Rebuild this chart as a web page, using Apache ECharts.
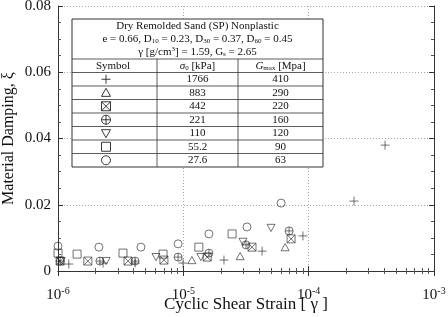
<!DOCTYPE html>
<html lang="en">
<head>
  <meta charset="UTF-8">
  <title>Material damping</title>
  <script src="https://cdn.jsdelivr.net/npm/echarts@6/dist/echarts.min.js"></script>
</head>
<body style="margin:0">
<div id="chart" style="width:448px;height:317px;"></div>
<script>
  // confining pressure groups (table rows)
  var sigma0 = ['1766', '883', '442', '221', '110', '55.2', '27.6'];
  var gmax = ['410', '290', '220', '160', '120', '90', '63'];

  // strain / damping, one pair of arrays per group
  var x1766 = [1.22e-6, 2.29e-6, 4.12e-6, 9.95e-6, 2.11e-5, 4.25e-5, 9.0e-5, 2.3e-4, 4.07e-4];
  var y1766 = [0.0021, 0.0024, 0.0024, 0.0024, 0.0033, 0.0060, 0.0106, 0.0211, 0.0380];
  var x883 = [1.17e-5, 2.84e-5, 6.49e-5];
  var y883 = [0.0033, 0.0045, 0.0072];
  var x442 = [1.04e-6, 1.73e-6, 3.62e-6, 7.0e-6, 1.55e-5, 3.53e-5, 7.24e-5];
  var y442 = [0.0030, 0.0030, 0.0030, 0.0033, 0.0042, 0.0072, 0.0097];
  var x221 = [1.04e-6, 2.16e-6, 4.12e-6, 9.08e-6, 1.6e-5, 3.16e-5, 6.98e-5];
  var y221 = [0.0030, 0.0030, 0.0030, 0.0042, 0.0054, 0.0079, 0.0121];
  var x110 = [1.06e-6, 2.42e-6, 6.05e-6, 1.38e-5, 2.99e-5, 5.01e-5];
  var y110 = [0.0030, 0.0030, 0.0042, 0.0042, 0.0088, 0.0130];
  var x55 = [1.0e-6, 1.42e-6, 3.3e-6, 6.89e-6, 1.33e-5, 2.45e-5];
  var y55 = [0.0054, 0.0051, 0.0054, 0.0051, 0.0072, 0.0112];
  var x27 = [1.0e-6, 2.12e-6, 4.59e-6, 9.08e-6, 1.6e-5, 3.22e-5, 6.03e-5];
  var y27 = [0.0075, 0.0072, 0.0072, 0.0082, 0.0112, 0.0133, 0.0205];

  var xs = [x1766, x883, x442, x221, x110, x55, x27];
  var ys = [y1766, y883, y442, y221, y110, y55, y27];

  var paths = [
    'M5,0L5,10M0,5L10,5',
    'M5,0L10,9L0,9Z',
    'M0,0L10,0L10,10L0,10ZM0,0L10,10M10,0L0,10',
    'M0,5A5,5,0,1,1,10,5A5,5,0,1,1,0,5ZM5,0L5,10M0,5L10,5',
    'M0,0L10,0L5,9Z',
    'M0,0L10,0L10,10L0,10Z',
    'M0,5A5,5,0,1,1,10,5A5,5,0,1,1,0,5Z'
  ];

  function zip(a, b) {
    return a.map(function (v, i) { return [v, b[i]]; });
  }

  var font = 'Liberation Serif';

  var series = xs.map(function (x, i) {
    return {
      name: sigma0[i],
      type: 'scatter',
      data: zip(x, ys[i]),
      symbol: 'path://' + paths[i],
      symbolSize: i === 0 ? 9 : 8,
      symbolKeepAspect: true,
      itemStyle: { color: 'none', borderColor: '#222', borderWidth: 0.8 }
    };
  });

  // inset table
  var tl = 72, tr = 323, tt = 19, tb = 167, th = 59, rowH = 13.5;
  var c1 = 157, c2 = 238;
  var lineStyle = { stroke: '#333', lineWidth: 0.8 };
  var sym = { fill: 'none', stroke: '#222', lineWidth: 0.9 };
  var g = [];
  g.push({ type: 'rect', shape: { x: tl, y: tt, width: tr - tl, height: tb - tt },
           style: { fill: '#fff', stroke: '#333', lineWidth: 1 }, z: 10 });
  for (var r = 0; r < 8; r++) {
    var yy = th + r * rowH;
    g.push({ type: 'line', shape: { x1: tl, y1: yy, x2: tr, y2: yy }, style: lineStyle, z: 11 });
  }
  g.push({ type: 'line', shape: { x1: c1, y1: th, x2: c1, y2: tb }, style: lineStyle, z: 11 });
  g.push({ type: 'line', shape: { x1: c2, y1: th, x2: c2, y2: tb }, style: lineStyle, z: 11 });

  function ln(x1, y1, x2, y2) {
    return { type: 'line', z: 12, shape: { x1: x1, y1: y1, x2: x2, y2: y2 }, style: sym };
  }
  function tableSymbol(k, x, y, h) {
    var out = [];
    if (k === 0 || k === 3) { out.push(ln(x - h, y, x + h, y)); out.push(ln(x, y - h, x, y + h)); }
    if (k === 1) out.push({ type: 'polygon', z: 12, shape: { points: [[x, y - h], [x + h, y + h * 0.8], [x - h, y + h * 0.8]] }, style: sym });
    if (k === 4) out.push({ type: 'polygon', z: 12, shape: { points: [[x - h, y - h * 0.8], [x + h, y - h * 0.8], [x, y + h]] }, style: sym });
    if (k === 2 || k === 5) out.push({ type: 'rect', z: 12, shape: { x: x - h, y: y - h, width: 2 * h, height: 2 * h }, style: sym });
    if (k === 2) { out.push(ln(x - h, y - h, x + h, y + h)); out.push(ln(x + h, y - h, x - h, y + h)); }
    if (k === 3 || k === 6) out.push({ type: 'circle', z: 12, shape: { cx: x, cy: y, r: h }, style: sym });
    return out;
  }

  var rich = {
    s: { fontFamily: font, fontSize: 7, padding: [5, 0, 0, 0] },
    sup: { fontFamily: font, fontSize: 7, padding: [0, 0, 5, 0] },
    i: { fontFamily: font, fontSize: 11, fontStyle: 'italic' }
  };
  var titles = [
    'Dry Remolded Sand (SP) Nonplastic',
    'e = 0.66, D{s|10} = 0.23, D{s|30} = 0.37, D{s|60} = 0.45',
    '\u03b3 [g/cm{sup|3}] = 1.59, G{s|s} = 2.65'
  ];
  titles.forEach(function (t, k) {
    g.push({ type: 'text', x: (tl + tr) / 2, y: 26 + k * 13, z: 12,
             style: { text: t, rich: rich, fontFamily: font, fontSize: 11, fill: '#111',
                      align: 'center', verticalAlign: 'middle' } });
  });
  var heads = ['Symbol', '{i|\u03c3}{s|0} [kPa]', '{i|G}{s|max} [Mpa]'];
  var cx = [113, (c1 + c2) / 2, (c2 + tr) / 2];
  heads.forEach(function (t, k) {
    g.push({ type: 'text', x: cx[k], y: th + rowH / 2, z: 12,
             style: { text: t, rich: rich, fontFamily: font, fontSize: 11, fill: '#111',
                      align: 'center', verticalAlign: 'middle' } });
  });
  sigma0.forEach(function (s, k) {
    var yc = th + (k + 1.5) * rowH;
    g = g.concat(tableSymbol(k, 106, yc, 4.5));
    g.push({ type: 'text', x: cx[1], y: yc, z: 12,
             style: { text: s, fontFamily: font, fontSize: 11, fill: '#111', align: 'center', verticalAlign: 'middle' } });
    g.push({ type: 'text', x: cx[2], y: yc, z: 12,
             style: { text: gmax[k], fontFamily: font, fontSize: 11, fill: '#111', align: 'center', verticalAlign: 'middle' } });
  });

  var axisLine = { lineStyle: { color: '#333', width: 1 } };
  var split = { show: true, lineStyle: { color: '#aaa', type: [1, 2], width: 1 } };

  function xAxisDef(top) {
    return {
      type: 'log', logBase: 10, min: 1e-6, max: 1e-3, interval: 1,
      position: top ? 'top' : 'bottom',
      axisLine: axisLine,
      axisTick: { inside: true, length: 5, lineStyle: { color: '#333' } },
      minorTick: { show: true, splitNumber: 9, length: 3, lineStyle: { color: '#555' } },
      splitLine: top ? { show: false } : split,
      axisLabel: top ? { show: false } : {
        margin: 15, color: '#111', fontFamily: font, fontSize: 15,
        formatter: function (v) { return '10{sup|' + Math.round(Math.log10(v)) + '}'; },
        rich: { sup: { fontFamily: font, fontSize: 10, padding: [0, 0, 9, 0], color: '#111' } }
      },
      name: top ? '' : 'Cyclic Shear Strain [ \u03b3 ]',
      nameLocation: 'middle', nameGap: 25, nameMoveOverlap: false,
      nameTextStyle: { fontFamily: font, fontSize: 17, color: '#111' }
    };
  }
  function yAxisDef(right) {
    return {
      type: 'value', min: 0, max: 0.08, interval: 0.02,
      position: right ? 'right' : 'left',
      axisLine: { show: true, lineStyle: { color: '#333', width: 1 } },
      axisTick: { inside: true, length: 5, lineStyle: { color: '#333' } },
      minorTick: { show: true, splitNumber: 4, length: 3, lineStyle: { color: '#555' } },
      splitLine: right ? { show: false } : split,
      axisLabel: right ? { show: false } : {
        margin: 7, color: '#111', fontFamily: font, fontSize: 15,
        formatter: function (v) { return v === 0 ? '0' : v.toFixed(2); }
      },
      name: right ? '' : 'Material Damping, \u03be',
      nameLocation: 'middle', nameGap: 41, nameMoveOverlap: false,
      nameTextStyle: { fontFamily: font, fontSize: 16, color: '#111' }
    };
  }

  var chart = echarts.init(document.getElementById('chart'));
  chart.setOption({
    animation: false,
    backgroundColor: '#fff',
    grid: { left: 58, right: 14, top: 6, bottom: 46, containLabel: false, outerBoundsMode: 'none' },
    xAxis: [xAxisDef(false), xAxisDef(true)],
    yAxis: [yAxisDef(false), yAxisDef(true)],
    series: series,
    graphic: g
  });
</script>
</body>
</html>
